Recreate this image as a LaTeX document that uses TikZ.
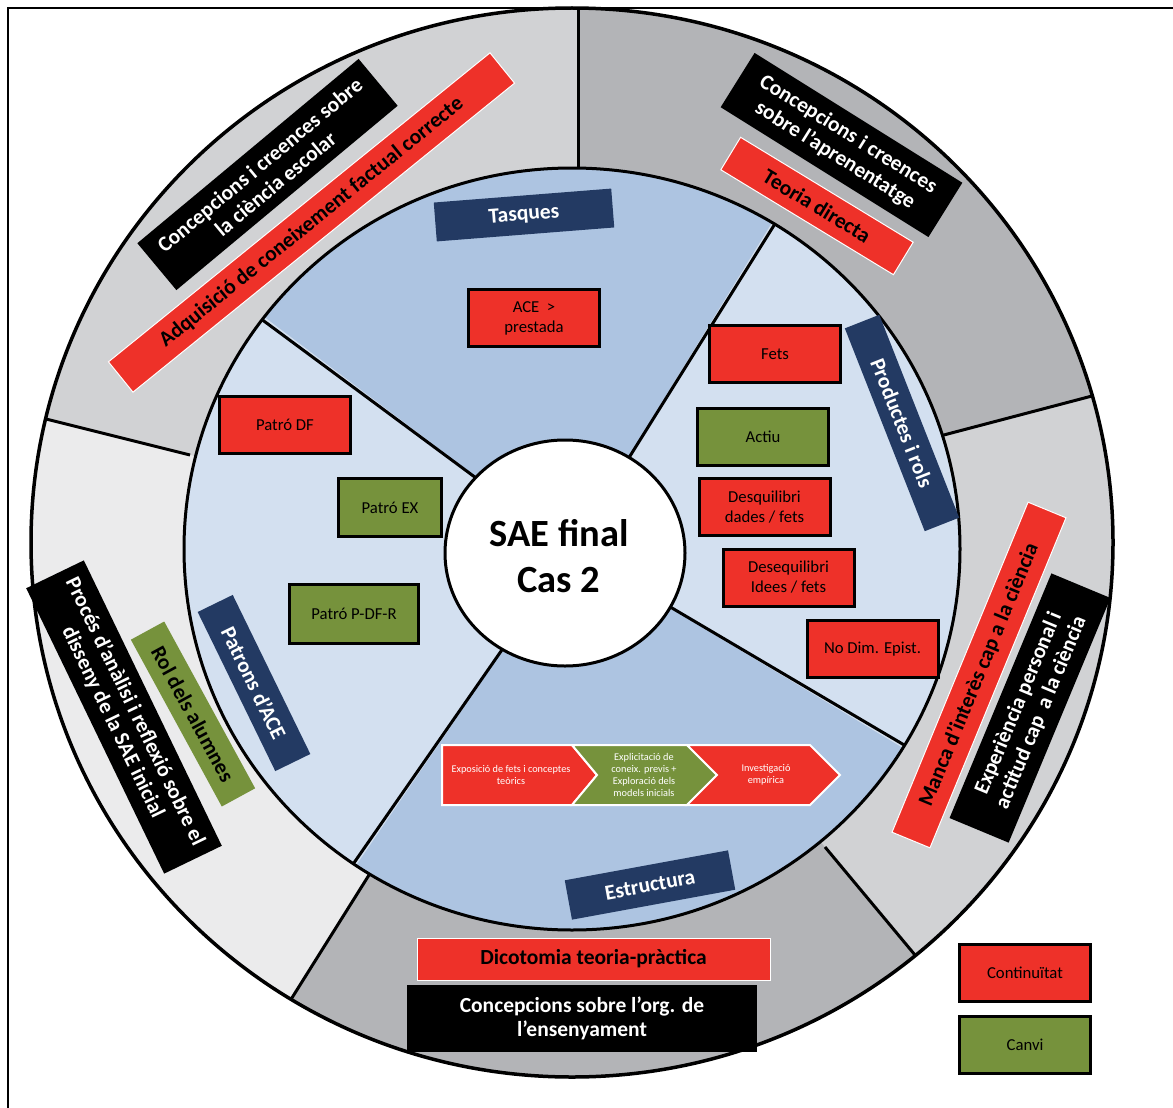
\documentclass[tikz,border=0pt]{standalone}
\usepackage{fontspec}
\setmainfont{Carlito}
\usetikzlibrary{shapes.geometric}
\definecolor{cred}{HTML}{EE3129}
\definecolor{cgreen}{HTML}{76923C}
\definecolor{cnavy}{HTML}{233A63}
\definecolor{gLight}{HTML}{D1D2D4}
\definecolor{gDark}{HTML}{B3B4B7}
\definecolor{gPale}{HTML}{EBEBEC}
\definecolor{bDark}{HTML}{ADC4E1}
\definecolor{bLight}{HTML}{D3E0F0}
\begin{document}
\begin{tikzpicture}[x=1pt,y=-1pt,
  box/.style={draw=black, line width=3pt, minimum width=131pt, minimum height=57pt, align=center, inner sep=2pt, font=\fontsize{16.7}{20}\selectfont},
  redbox/.style={box, fill=cred},
  greenbox/.style={box, fill=cgreen},
  band/.style={align=center, inner sep=0pt, font=\fontsize{21.5}{24.5}\bfseries\selectfont},
  redband/.style={band, fill=cred, draw=white, line width=1pt, text=black},
  blackband/.style={band, fill=black, text=white},
  navyband/.style={band, fill=cnavy, text=white},
  greenband/.style={band, fill=cgreen, text=black},
  divider/.style={line width=3pt, black},
  chev/.style={draw=white, line width=2pt},
  chevtext/.style={text=white, align=center, inner sep=0pt, font=\fontsize{10.3}{12}\selectfont}
]
\useasboundingbox (0,0) rectangle (1173,1108);
\fill[white] (0,0) rectangle (1173,1108);
% frame
\draw[line width=1.5pt] (8,1108) -- (8,8) -- (1173,8);

% outer ring
\begin{scope}
  \clip (572,542.5) ellipse[x radius=541, y radius=534.5];
  \fill[gDark]  (572,549) -- (578,168) -- (578,-100) -- (1300,-100) -- (1244,356) -- (940,436) -- cycle;
  \fill[gLight] (572,549) -- (940,436) -- (1244,356) -- (1300,1200) -- (1005,1063) -- (825,847) -- cycle;
  \fill[gDark]  (572,549) -- (825,847) -- (1005,1063) -- (1005,1300) -- (221,1300) -- (221,1111) -- (369,875) -- cycle;
  \fill[gPale]  (572,549) -- (369,875) -- (221,1111) -- (-200,1111) -- (-200,385) -- (-90,385) -- (190,455) -- cycle;
  \fill[gLight] (572,549) -- (190,455) -- (-90,385) -- (-200,-100) -- (578,-100) -- (578,168) -- cycle;
  \draw[divider] (578,168) -- (578,-100);
  \draw[divider] (940,436) -- (1244,356);
  \draw[divider] (825,847) -- (1005,1063);
  \draw[divider] (369,875) -- (221,1111);
  \draw[divider] (190,455) -- (-90,385);
\end{scope}
\draw[line width=3.5pt] (572,542.5) ellipse[x radius=541, y radius=534.5];

% inner ring
\begin{scope}[shift={(572,549)}, yscale=-1]
  \begin{scope}
    \clip (0,0) ellipse[x radius=388, y radius=381];
    \fill[bDark]  (0,0) -- (58.5:800) -- (100:800) -- (143:800) -- cycle;
    \fill[bLight] (0,0) -- (143:800) -- (189:800) -- (235.7:800) -- cycle;
    \fill[bDark]  (0,0) -- (235.7:800) -- (282:800) -- (329:800) -- cycle;
    \fill[bLight] (0,0) -- (329:800) -- (373:800) -- (418.5:800) -- cycle;
  \end{scope}
  \draw[line width=3pt] (0,0) ellipse[x radius=388, y radius=381];
  \draw[divider] (0,0) -- (58.5:388 and 381);
  \draw[divider] (0,0) -- (143:388 and 381);
  \draw[divider] (0,0) -- (235.7:388 and 381);
  \draw[divider] (0,0) -- (-31:388 and 381);
\end{scope}

% centre
\node[draw=black, line width=3pt, fill=white, ellipse, minimum width=240pt, minimum height=226pt, inner sep=0pt] (core) at (565,553) {};
\node[align=center, font=\fontsize{38.5}{46}\bfseries\selectfont] (coretext) at (559,556) {SAE final\\Cas 2};

% outer ring labels
\node[blackband, rotate=39.8, minimum width=288pt, minimum height=61pt] (cienciaEsc) at (267.5,174.5) {Concepcions i creences sobre\\la ciència escolar};
\node[redband, rotate=39, minimum width=491pt, minimum height=39pt] (adquisicio) at (311.5,222.5) {Adquisició de coneixement factual correcte};
\node[blackband, rotate=-32, minimum width=245pt, minimum height=64pt] (aprenentatge) at (841.5,145) {Concepcions i creences\\sobre l’aprenentatge};
\node[redband, rotate=-31.3, minimum width=202pt, minimum height=38pt] (teoria) at (817,206) {Teoria directa};
\node[redband, rotate=67.6, minimum width=357pt, minimum height=41pt] (manca) at (979,675) {Manca d’interès cap a la ciència};
\node[blackband, rotate=67.4, minimum width=265pt, minimum height=64pt] (experiencia) at (1030,708) {Experiència personal i\\actitud cap\ \ a la ciència};
\node[redband, minimum width=353pt, minimum height=42pt] (dicotomia) at (593.5,959) {Dicotomia teoria-pràctica};
\node[blackband, minimum width=350pt, minimum height=67pt] (orgens) at (582,1018.5) {Concepcions sobre l’org. de\\l’ensenyament};
\node[blackband, rotate=-64.2, minimum width=317pt, minimum height=64pt] (proces) at (124,717) {Procés d’anàlisi i reflexió sobre el\\disseny de la SAE inicial};
\node[greenband, rotate=-61.4, minimum width=190pt, minimum height=38pt] (rol) at (193,714) {Rol dels alumnes};

% inner ring labels
\node[navyband, rotate=4.5, minimum width=178pt, minimum height=39pt] (tasques) at (524,215) {Tasques};
\node[navyband, rotate=-68.5, minimum width=218pt, minimum height=37pt] (productes) at (902,423) {Productes i rols};
\node[navyband, rotate=-64, minimum width=177pt, minimum height=39pt] (patrons) at (254,683) {Patrons d’ACE};
\node[navyband, rotate=10.4, minimum width=166pt, minimum height=40pt] (estructura) at (650,885) {Estructura};

% boxes
\node[redbox] (ace) at (534,318) {ACE\ \ >\\prestada};
\node[redbox] (fets) at (775,354) {Fets};
\node[greenbox] (actiu) at (763,436.5) {Actiu};
\node[redbox] (desq1) at (764.5,507) {Desquilibri\\dades / fets};
\node[redbox] (desq2) at (788.5,577.5) {Desequilibri\\Idees / fets};
\node[redbox] (nodim) at (872.5,649) {No Dim. Epist.};
\node[redbox] (pdf) at (285,425) {Patró DF};
\node[greenbox, minimum width=103pt, minimum height=58pt] (pex) at (390,507.5) {Patró EX};
\node[greenbox, minimum width=129pt, minimum height=59pt] (ppdfr) at (354,614) {Patró P-DF-R};

% process chevrons
\filldraw[chev, fill=cred] (442,745) -- (572,745) -- (597,775) -- (572,805) -- (442,805) -- cycle;
\filldraw[chev, fill=cgreen] (572,745) -- (687,745) -- (717,775) -- (687,805) -- (572,805) -- (597,775) -- cycle;
\filldraw[chev, fill=cred] (687,745) -- (810,745) -- (840,775) -- (810,805) -- (687,805) -- (717,775) -- cycle;
\node[chevtext] (exposicio) at (511,775) {Exposició de fets i conceptes\\teòrics};
\node[chevtext] (explicitacio) at (644,775) {Explicitació de\\coneix. previs +\\Exploració dels\\models inicials};
\node[chevtext] (investigacio) at (766,775) {Investigació\\empírica};

% legend
\node[redbox] (legC) at (1025,973) {Continuïtat};
\node[greenbox] (legV) at (1025,1044.5) {Canvi};
\end{tikzpicture}
\end{document}
